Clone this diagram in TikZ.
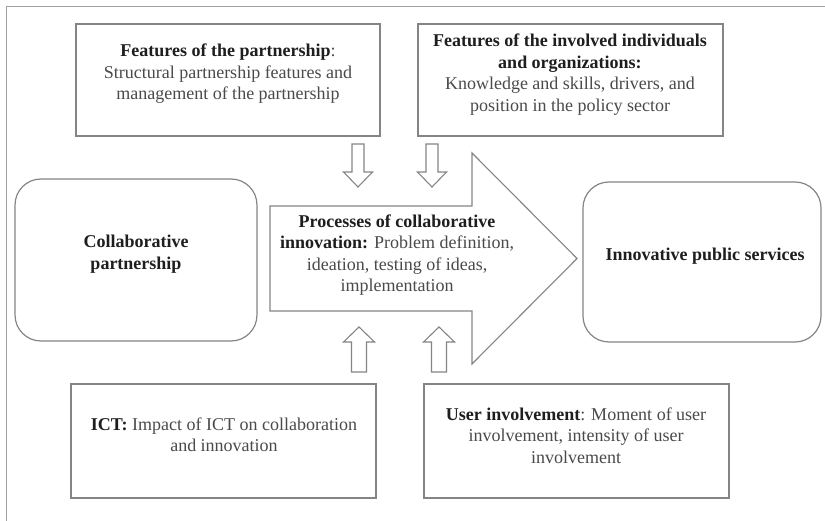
\documentclass[tikz,border=0pt]{standalone}
\usepackage{fontspec}
\setmainfont{Liberation Serif}
\definecolor{linegray}{HTML}{858585}
\definecolor{framegray}{HTML}{A0A0A0}
\definecolor{darktext}{HTML}{1E1E1E}
\definecolor{lighttext}{HTML}{4A4A4A}
\newcommand\hb[1]{\textcolor{darktext}{\textbf{#1}}}
\tikzset{
  box/.style={draw=linegray, line width=1.2pt, inner sep=0pt, fill=white},
  rbox/.style={box, rounded corners=26pt},
  txt/.style={align=center, font=\fontsize{18}{21.5}\selectfont, text=lighttext, inner sep=0pt},
  blockarrow/.style={draw=linegray, line width=1.1pt, fill=white, line join=miter},
}
\begin{document}
\begin{tikzpicture}[x=1pt,y=-1pt]
\useasboundingbox[fill=white] (0,0) rectangle (825,521);
% frame
\draw[framegray, line width=1pt] (825,7) -- (6,7) -- (6,521);

% boxes
\node[box, minimum width=304pt, minimum height=112pt] (tl) at (228,80) {};
\node[box, minimum width=305pt, minimum height=112pt] (tr) at (570.5,80) {};
\node[rbox, minimum width=242pt, minimum height=162pt] (lb) at (136,260) {};
\node[rbox, minimum width=238pt, minimum height=160pt] (rb) at (702,262) {};
\node[box, minimum width=305pt, minimum height=114pt] (bl) at (223.5,441) {};
\node[box, minimum width=305pt, minimum height=114pt] (br) at (576.5,441) {};

% big arrow
\draw[blockarrow] (270,206) -- (472,206) -- (472,153) -- (577,258.5) -- (472,364) -- (472,311) -- (270,311) -- cycle;

% down arrows
\draw[blockarrow] (352,144) -- (364,144) -- (364,172) -- (372.5,172) -- (358,187) -- (343.5,172) -- (352,172) -- cycle;
\draw[blockarrow] (426,144) -- (438,144) -- (438,172) -- (446.5,172) -- (432,187) -- (417.5,172) -- (426,172) -- cycle;
% up arrows
\draw[blockarrow] (351.5,372) -- (366.5,372) -- (366.5,342) -- (374.5,342) -- (359,327) -- (343.5,342) -- (351.5,342) -- cycle;
\draw[blockarrow] (431.5,372) -- (446.5,372) -- (446.5,342) -- (454.5,342) -- (439,327) -- (423.5,342) -- (431.5,342) -- cycle;

% texts
\node[txt] (tltext) at (228,74) {\hb{Features of the partnership}:\\Structural partnership features and\\management of the partnership};
\node[txt] (trtext) at (570,74.5) {\hb{Features of the involved individuals}\\\hb{and organizations:}\\Knowledge and skills, drivers, and\\position in the policy sector};
\node[txt] (lbtext) at (136,254) {\hb{Collaborative}\\\hb{partnership}};
\node[txt] (artext) at (397,255) {\hb{Processes of collaborative}\\\hb{innovation:} Problem definition,\\ideation, testing of ideas,\\implementation};
\node[txt] (rbtext) at (705,256) {\hb{Innovative public services}};
\node[txt] (bltext) at (224,435) {\hb{ICT:} Impact of ICT on collaboration\\and innovation};
\node[txt] (brtext) at (576,435.5) {\hb{User involvement}: Moment of user\\involvement, intensity of user\\involvement};
\end{tikzpicture}
\end{document}
